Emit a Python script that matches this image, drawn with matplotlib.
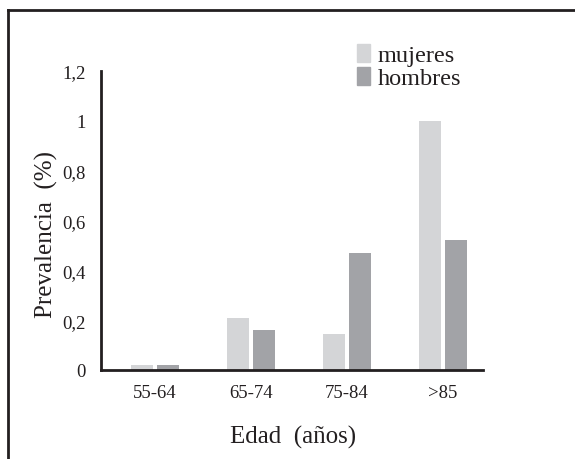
import matplotlib
matplotlib.use("Agg")
import matplotlib.pyplot as plt
from matplotlib.lines import Line2D
from matplotlib.patches import Patch
import numpy as np

plt.rcParams['font.family'] = ['Liberation Serif', 'DejaVu Serif']

# data
grupos = ['55-64', '65-74', '75-84', '>85']
mujeres = [0.02, 0.21, 0.145, 1.0]
hombres = [0.02, 0.16, 0.47, 0.52]
yticks = [0, 0.2, 0.4, 0.6, 0.8, 1.0, 1.2]
ytick_labels = ['0', '0,2', '0,4', '0,6', '0,8', '1', '1,2']

c_muj = '#d4d5d7'
c_hom = '#a2a3a7'
ink = '#231f20'

W, H = 575, 460
fig = plt.figure(figsize=(W / 100, H / 100), dpi=100)
# axes in pixel units: left 101, right 483, top 72, bottom 371
ax = fig.add_axes([101 / W, 1 - 371 / H, (483 - 101) / W, (371 - 72) / H])

x = np.arange(len(grupos))
bw = 0.23
ax.bar(x - 0.135, mujeres, bw, color=c_muj, label='mujeres')
ax.bar(x + 0.135, hombres, bw, color=c_hom, label='hombres')

ax.set_xlim(-0.56, 3.42)
ax.set_ylim(0, 1.2)
ax.set_yticks(yticks)
ax.set_yticklabels(ytick_labels)
ax.set_xticks(x)
ax.set_xticklabels(grupos)
ax.tick_params(length=0, labelsize=13.5, colors=ink, pad=10)
ax.tick_params(axis='y', pad=11)

for s in ['top', 'right']:
    ax.spines[s].set_visible(False)
for s in ['left', 'bottom']:
    ax.spines[s].set_linewidth(2)
    ax.spines[s].set_color(ink)

ax.set_xlabel('Edad  (años)', fontsize=18, color=ink)
ax.set_ylabel('Prevalencia  (%)', fontsize=18, color=ink)
ax.xaxis.set_label_coords(0.503, -0.185)
ax.yaxis.set_label_coords(-0.112, 0.455)

handles = [Patch(color=c_muj), Patch(color=c_hom)]
fig.legend(handles, ['mujeres', 'hombres'], loc='upper left',
           bbox_to_anchor=(357 / W, 1 - 45 / H), frameon=False,
           fontsize=17.5, handlelength=0.55, handleheight=0.75,
           handletextpad=0.3, labelspacing=0.02, borderpad=0,
           borderaxespad=0, labelcolor=ink)

# outer frame (top and left edges)
fig.add_artist(Line2D([8 / W, 1], [1 - 11 / H, 1 - 11 / H], color=ink, lw=2))
fig.add_artist(Line2D([8 / W, 8 / W], [1 - 11 / H, 0], color=ink, lw=2))

fig.savefig('out.png', dpi=100)
